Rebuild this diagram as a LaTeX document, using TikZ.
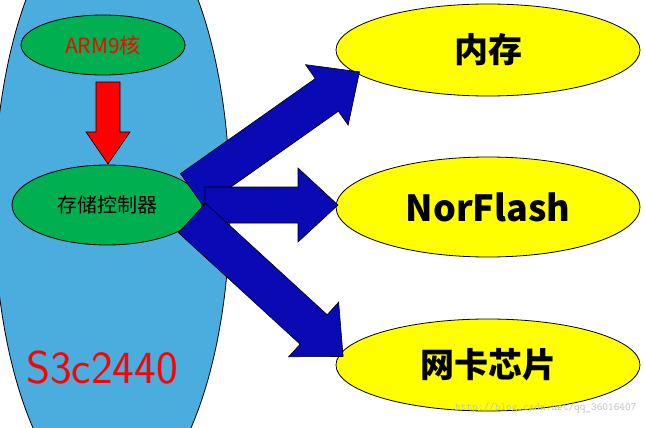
\documentclass[tikz,border=0pt]{standalone}
\usepackage{fontspec}
\setmainfont{Noto Sans CJK SC}
\usetikzlibrary{shapes.geometric}
\definecolor{bigblue}{RGB}{75,172,222}
\definecolor{grn}{RGB}{0,176,80}
\definecolor{ylw}{RGB}{255,255,0}
\definecolor{dblue}{RGB}{10,10,180}
\tikzset{x=1pt,y=-1pt,
  ell/.style={draw=black,ellipse,line width=0.8pt},
  barrowst/.style={draw=black,fill=dblue,line width=0.6pt,line join=miter}}
\newcommand\myarrow[6]{% x y angle length style halfshaft
\begin{scope}[shift={(#1,#2)},rotate=#3]
\draw[#5] (0,-#6) -- (#4-40,-#6) -- (#4-40,-37) -- (#4,0) -- (#4-40,37) -- (#4-40,#6) -- (0,#6) -- cycle;
\end{scope}}
\begin{document}
\begin{tikzpicture}
\useasboundingbox (0,0) rectangle (645,428);
\fill[white] (0,0) rectangle (645,428);
\begin{scope}
\clip (0,0) rectangle (645,428);
\draw[fill=bigblue,line width=0.8pt] (112,205) ellipse [x radius=118,y radius=300];
\end{scope}
\node[ell,fill=grn,minimum width=164pt,minimum height=60pt] (arm) at (103,45) {\fontsize{21}{21}\selectfont\color{red}ARM9核};
\node[ell,fill=grn,minimum width=190pt,minimum height=80pt] (ctl) at (107,205) {\fontsize{20}{20}\selectfont 存储控制器};
\begin{scope}[shift={(108,82)}]
\draw[fill=red,draw=black,line width=0.6pt] (-12,0) -- (12,0) -- (12,50) -- (22,50) -- (0,82) -- (-22,50) -- (-12,50) -- cycle;
\end{scope}
\node[ell,fill=ylw,minimum width=304pt,minimum height=92pt] (mem) at (488,50) {\fontsize{34}{34}\selectfont\bfseries 内存};
\node[ell,fill=ylw,minimum width=304pt,minimum height=100pt] (nor) at (488,207) {\fontsize{36}{36}\selectfont\bfseries NorFlash};
\node[ell,fill=ylw,minimum width=304pt,minimum height=92pt] (net) at (488,365) {\fontsize{34}{34}\selectfont\bfseries 网卡芯片};
\myarrow{192}{190}{35.2}{205}{barrowst}{20}
\myarrow{205}{205}{0}{133}{barrowst}{18}
\myarrow{192}{218}{-42.5}{205}{barrowst}{20}
\node[text=red] (s3c) at (102,368) {\fontsize{46}{46}\selectfont\sffamily S3c2440};
\node[text=black!25,anchor=east] (wm) at (640,408) {\fontsize{11}{11}\selectfont\ttfamily http://blog.csdn.net/qq\_36016407};
\end{tikzpicture}
\end{document}
